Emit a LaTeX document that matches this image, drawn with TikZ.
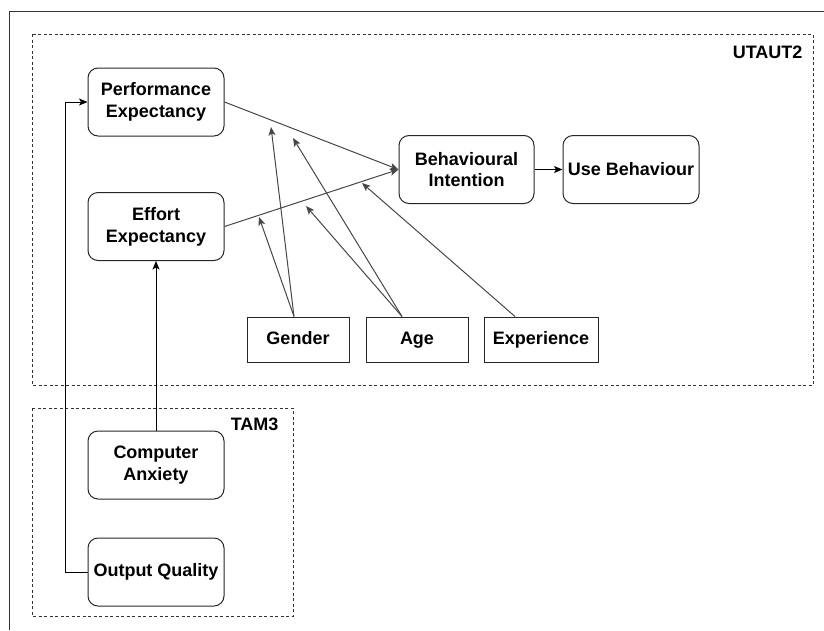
\documentclass[tikz,border=0pt]{standalone}
\usepackage{fontspec}
\setmainfont{Liberation Sans}
\usetikzlibrary{arrows.meta}
\begin{document}
\begin{tikzpicture}[x=1pt,y=-1pt,
  lbl/.style={font=\bfseries\fontsize{18}{21.7}\selectfont},
  rbox/.style={lbl,draw=black!85,line width=1pt,rounded corners=10pt,align=center,inner sep=0pt,minimum width=136pt,minimum height=68pt},
  sbox/.style={lbl,draw=black!85,line width=1pt,align=center,inner sep=0pt,minimum height=45pt,text height=13pt,text depth=4pt},
  group/.style={draw=black!80,line width=0.8pt,dash pattern=on 3pt off 2.5pt},
  conn/.style={line width=1pt,-{Stealth[length=8.5pt,width=7pt,inset=2pt]}},
  mod/.style={conn,draw=black!72}
]
\useasboundingbox (0,0) rectangle (824,630);
\draw[line width=1pt,black!80] (9,630) -- (9,11) -- (824,11);
% groups
\draw[group] (32,34) rectangle (813,385);
\draw[group] (32,408) rectangle (293,616);
\node[lbl,anchor=east] (utaut) at (806,52) {UTAUT2};
\node[lbl,anchor=east] (tam) at (282,424) {TAM3};
% nodes
\node[rbox] (pe) at (156,102) {Performance\\Expectancy};
\node[rbox] (ee) at (156,226.5) {Effort\\Expectancy};
\node[rbox,minimum width=135pt] (bi) at (466.5,169.5) {Behavioural\\Intention};
\node[rbox] (ub) at (631,169.5) {Use Behaviour};
\node[sbox,minimum width=102pt] (gender) at (298,339.5) {Gender};
\node[sbox,minimum width=102pt] (age) at (417,339.5) {Age};
\node[sbox,minimum width=114pt] (exp) at (541,339.5) {Experience};
\node[rbox] (ca) at (156,465) {Computer\\Anxiety};
\node[rbox] (oq) at (156,572) {Output Quality};
% target points
\coordinate (g1) at (271,127);
\coordinate (g2) at (259,217);
\coordinate (a1) at (293,138);
\coordinate (a2) at (306,206);
\coordinate (e1) at (362,183);
% connectors
\draw[mod] (pe.east) -- (bi.west);
\draw[mod] (ee.east) -- (bi.west);
\draw[conn] (bi.east) -- (ub.west);
\draw[conn] (ca.north) -- (ee.south);
\draw[conn] (oq.west) -- ++(-22,0) |- (pe.west);
\draw[mod] ([xshift=-4pt]gender.north) -- (g1);
\draw[mod] ([xshift=-4pt]gender.north) -- (g2);
\draw[mod] ([xshift=-15pt]age.north) -- (a1);
\draw[mod] ([xshift=-15pt]age.north) -- (a2);
\draw[mod] ([xshift=-26pt]exp.north) -- (e1);
\end{tikzpicture}
\end{document}
